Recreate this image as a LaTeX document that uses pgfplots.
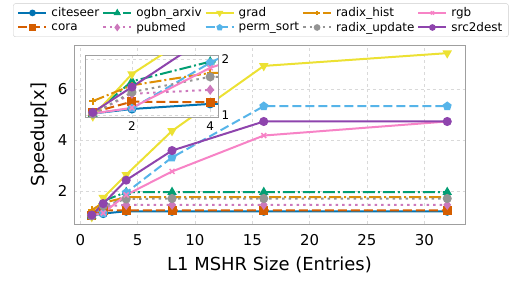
\documentclass[border=0pt]{standalone}
\usepackage{pgfplots}
\usepackage{pgfplotstable}
\pgfplotsset{compat=1.18}
\usepackage{fontspec}
\setmainfont{DejaVu Sans}
\definecolor{cCite}{HTML}{0173B2}
\definecolor{cCora}{HTML}{D55E00}
\definecolor{cOgbn}{HTML}{029E73}
\definecolor{cPub}{HTML}{CC78BC}
\definecolor{cGrad}{HTML}{ECE133}
\definecolor{cPerm}{HTML}{56B4E9}
\definecolor{cRhist}{HTML}{DE8F05}
\definecolor{cRupd}{HTML}{949494}
\definecolor{cRgb}{HTML}{F783C6}
\definecolor{cSrc}{HTML}{8E44AD}
\pgfplotstableread{
x citeseer cora ogbn pubmed grad perm rhist rupd rgb src
1 1.03 1.05 1.02 1.03 0.98 1.03 1.25 1.02 1.03 1.05
2 1.11 1.24 1.60 1.38 1.73 1.12 1.53 1.41 1.13 1.50
4 1.20 1.23 1.95 1.45 2.63 1.93 1.75 1.68 1.84 2.42
8 1.20 1.23 1.95 1.45 4.35 3.31 1.75 1.70 2.76 3.58
16 1.20 1.23 1.95 1.45 6.90 5.32 1.75 1.70 4.17 4.72
32 1.20 1.23 1.95 1.45 7.40 5.32 1.75 1.70 4.72 4.72
}\datatable
\pgfplotsset{
  sCite/.style={color=cCite, solid, mark=*, mark options={solid}},
  sCora/.style={color=cCora, dash pattern=on 9bp off 4bp, mark=square*, mark options={solid}},
  sOgbn/.style={color=cOgbn, dash pattern=on 12bp off 3bp on 2bp off 3bp, mark=triangle*, mark options={solid}},
  sPub/.style={color=cPub, dash pattern=on 2.5bp off 4bp, mark=diamond*, mark options={solid}},
  sGrad/.style={color=cGrad, solid, mark=triangle*, mark options={solid, rotate=180}},
  sPerm/.style={color=cPerm, dash pattern=on 9bp off 4bp, mark=pentagon*, mark options={solid}},
  sRhist/.style={color=cRhist, dash pattern=on 12bp off 3bp on 2bp off 3bp, mark=+, mark options={solid, line width=2.5bp}},
  sRupd/.style={color=cRupd, dash pattern=on 2.5bp off 4bp, mark=*, mark options={solid}},
  sRgb/.style={color=cRgb, solid, mark=x, mark options={solid, line width=1.5bp}},
  sSrc/.style={color=cSrc, solid, mark=*, mark options={solid}},
}
\begin{document}
\begin{tikzpicture}
\begin{axis}[
  name=main,
  scale only axis, width=391bp, height=179bp,
  xmin=-0.55, xmax=33.55, ymin=0.7, ymax=7.72,
  xtick={0,5,...,30}, ytick={2,4,6},
  grid=major, grid style={dashed, gray!30, line width=0.6bp},
  axis line style={gray!75, line width=1bp},
  major tick length=0pt,
  tick label style={font=\fontsize{15}{17}\selectfont},
  xticklabel style={anchor=base, yshift=-21bp},
  yticklabel style={xshift=-3bp},
  /pgf/number format/assume math mode=true,
  label style={font=\fontsize{18}{20}\selectfont},
  xlabel={L1 MSHR Size (Entries)}, ylabel={Speedup[x]},
  xlabel style={at={(axis description cs:0.5,-0.257)}, anchor=base, inner sep=0pt},
  ylabel style={at={(axis description cs:-0.066,0.5)}, anchor=south, inner sep=0pt},
  every axis plot/.append style={line width=2bp, mark size=3.5bp},
  legend columns=2, transpose legend,
  legend style={at={(0.478,1.045)}, anchor=south, font=\fontsize{12}{14}\selectfont,
    draw=gray!40, rounded corners=2bp, column sep=2bp, inner xsep=4bp, inner ysep=2bp,
    /tikz/every even column/.append style={column sep=1bp}},
  legend cell align=left,
  legend image code/.code={\draw[mark repeat=2, mark phase=2, #1, every mark/.append style={scale=0.65}] plot coordinates {(0bp,0bp) (14bp,0bp) (28bp,0bp)};},
]
\addplot[sCite] table[x=x,y=citeseer]{\datatable}; \addlegendentry{citeseer}
\addplot[sCora] table[x=x,y=cora]{\datatable}; \addlegendentry{cora}
\addplot[sOgbn] table[x=x,y=ogbn]{\datatable}; \addlegendentry{ogbn\_arxiv}
\addplot[sPub] table[x=x,y=pubmed]{\datatable}; \addlegendentry{pubmed}
\addplot[sGrad] table[x=x,y=grad]{\datatable}; \addlegendentry{grad}
\addplot[sPerm] table[x=x,y=perm]{\datatable}; \addlegendentry{perm\_sort}
\addplot[sRhist] table[x=x,y=rhist]{\datatable}; \addlegendentry{radix\_hist}
\addplot[sRupd] table[x=x,y=rupd]{\datatable}; \addlegendentry{radix\_update}
\addplot[sRgb] table[x=x,y=rgb]{\datatable}; \addlegendentry{rgb}
\addplot[sSrc] table[x=x,y=src]{\datatable}; \addlegendentry{src2dest}
\end{axis}
\begin{axis}[
  at={(11bp,106bp)}, anchor=south west,
  scale only axis, width=133bp, height=62bp,
  xmin=0.8, xmax=4.2, ymin=0.95, ymax=2.05,
  xtick={2,4}, ytick={1,2},
  yticklabel pos=right,
  axis background/.style={fill=white},
  grid=major, grid style={dashed, gray!30, line width=0.6bp},
  axis line style={gray!75, line width=1bp},
  major tick length=0pt,
  tick label style={font=\fontsize{12}{14}\selectfont},
  /pgf/number format/assume math mode=true,
  every axis plot/.append style={line width=2bp, mark size=3.5bp},
]
\addplot[sCite] table[x=x,y=citeseer]{\datatable};
\addplot[sCora] table[x=x,y=cora]{\datatable};
\addplot[sOgbn] table[x=x,y=ogbn]{\datatable};
\addplot[sPub] table[x=x,y=pubmed]{\datatable};
\addplot[sGrad] table[x=x,y=grad]{\datatable};
\addplot[sPerm] table[x=x,y=perm]{\datatable};
\addplot[sRhist] table[x=x,y=rhist]{\datatable};
\addplot[sRupd] table[x=x,y=rupd]{\datatable};
\addplot[sRgb] table[x=x,y=rgb]{\datatable};
\addplot[sSrc] table[x=x,y=src]{\datatable};
\end{axis}
\pgfresetboundingbox
\path (-74bp,-57bp) rectangle (449bp,224bp);
\end{tikzpicture}
\end{document}
